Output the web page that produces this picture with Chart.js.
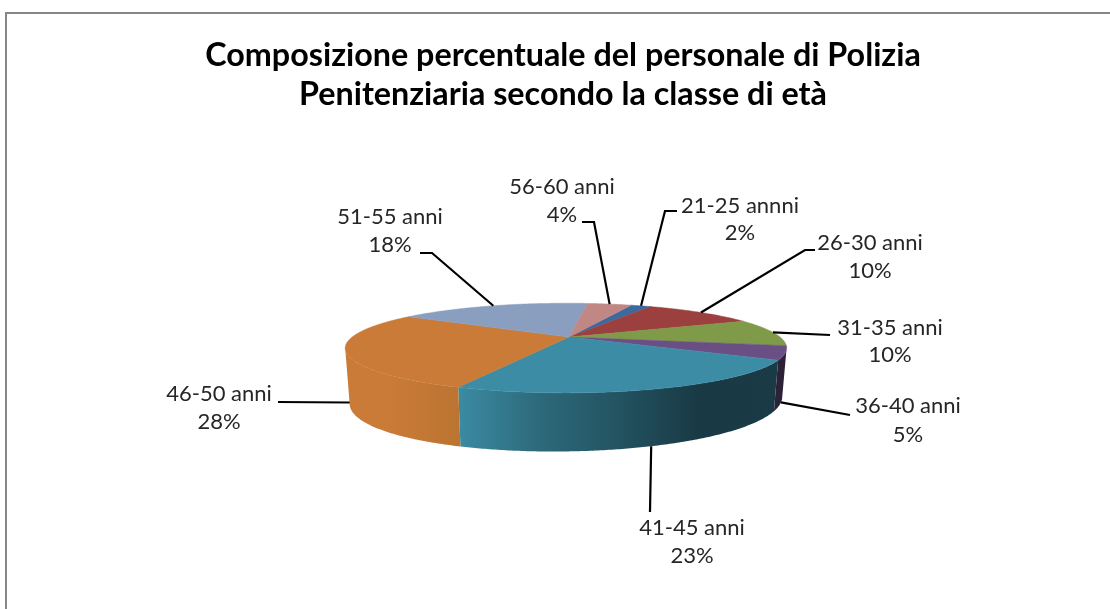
<!DOCTYPE html>
<html>
<head>
<meta charset="utf-8">
<script src="https://cdn.jsdelivr.net/npm/chart.js@4"></script>
<style>
html, body { margin: 0; padding: 0; background: #fff; overflow: hidden; }
#wrap { position: absolute; left: 0; top: 0; width: 1110px; height: 609px; }
#frame { position: absolute; left: 5px; top: 12px; width: 1110px; height: 620px; border: 2px solid #868686; }
</style>
</head>
<body>
<div id="frame"></div>
<div id="wrap"><canvas id="myChart"></canvas></div>
<script>
const titleLines = ['Composizione percentuale del personale di Polizia', 'Penitenziaria secondo la classe di età'];
const categories = ['21-25 annni', '26-30 anni', '31-35 anni', '36-40 anni', '41-45 anni', '46-50 anni', '51-55 anni', '56-60 anni'];
const percentages = [1.9, 10.4, 10.0, 5.0, 23.4, 27.6, 17.6, 4.1];
const topColors = ['#3d6a9e', '#9c3f3f', '#7f9a48', '#6a4f85', '#3c8ca5', '#c97b37', '#8a9fc0', '#c08785'];
// left to right colour stops of the rim
const sideColors = [
	['#2b4a70'], ['#6e2c2c'], ['#5a6d33'], ['#2c2238'],
	['#3b8ba2', '#2d6a7b', '#235361', '#193a45', '#1a3a46'],
	['#c97b37', '#ca7c37', '#c47835', '#bb7431'],
	['#62718a'], ['#885f5e']
];

// where the leader goes after leaving the pie, and where the two text lines sit
const labelLayout = [
	{ bend: [[665, 211], [677, 211]], x: 740, y: [206, 233] },
	{ bend: [[805, 250], [815, 250]], x: 870, y: [243, 271] },
	{ bend: [[830, 335]], x: 890, y: [328, 355] },
	{ bend: [[850, 415]], x: 908, y: [406, 435], low: true },
	{ bend: [[650, 512]], x: 692, y: [528, 556], low: true, shift: 1 },
	{ bend: [[278, 402]], x: 219, y: [394, 422], low: true, shift: 4 },
	{ bend: [[432, 253], [420, 253]], x: 390, y: [217, 245] },
	{ bend: [[594, 222], [582, 222]], x: 562, y: [187, 215] }
];

const view = { dx: 6, flat: 0.197, k: 0.244, m: -0.0136, shrink: 0.98 };

function rimTop(arc, a) {
	const u = Math.cos(a), v = Math.sin(a);
	const w = 1 - view.k * v - view.m * u;
	return {
		x: arc.x + view.dx + arc.outerRadius * u / w,
		y: arc.y + arc.outerRadius * view.flat * v / w
	};
}

function rimBottom(arc, a) {
	const p = rimTop(arc, a);
	const cx = arc.x + view.dx;
	const depth = 50 + 8.5 * Math.sin(a) - 3.6 * Math.cos(a);
	return { x: cx + (p.x - cx) * view.shrink, y: p.y + depth };
}

function anglesOf(start, end) {
	const out = [];
	const n = Math.max(2, Math.ceil((end - start) / 0.01));
	for (let i = 0; i <= n; i++) out.push(start + (end - start) * i / n);
	return out;
}

const pie3d = {
	id: 'pie3d',
	beforeDatasetDraw(chart, args) {
		const ctx = chart.ctx;
		const arcs = args.meta.data;
		const edge = Math.asin(view.k); // silhouette of the disc

		// rim first, only the part that faces the viewer
		arcs.forEach((arc, i) => {
			const twoPi = Math.PI * 2;
			let s = arc.startAngle, e = arc.endAngle;
			while (e > twoPi) { s -= twoPi; e -= twoPi; }
			s = Math.max(s, edge);
			e = Math.min(e, Math.PI - edge);
			if (e <= s) return;
			const angles = anglesOf(s, e);
			const a = rimTop(arc, s), b = rimTop(arc, e);
			const grad = ctx.createLinearGradient(Math.min(a.x, b.x), 0, Math.max(a.x, b.x), 0);
			const stops = sideColors[i];
			stops.forEach((c, j) => grad.addColorStop(stops.length > 1 ? j / (stops.length - 1) : 0, c));
			ctx.beginPath();
			angles.forEach(t => { const p = rimTop(arc, t); ctx.lineTo(p.x, p.y); });
			angles.slice().reverse().forEach(t => { const p = rimBottom(arc, t); ctx.lineTo(p.x, p.y); });
			ctx.closePath();
			ctx.fillStyle = grad;
			ctx.fill();
		});

		// top face
		arcs.forEach((arc, i) => {
			ctx.beginPath();
			ctx.moveTo(arc.x + view.dx, arc.y);
			anglesOf(arc.startAngle, arc.endAngle).forEach(t => { const p = rimTop(arc, t); ctx.lineTo(p.x, p.y); });
			ctx.closePath();
			ctx.fillStyle = topColors[i];
			ctx.strokeStyle = topColors[i];
			ctx.lineWidth = 0.5;
			ctx.fill();
			ctx.stroke();
		});
		return false;
	},
	afterDatasetsDraw(chart) {
		const ctx = chart.ctx;
		chart.getDatasetMeta(0).data.forEach((arc, i) => {
			const spec = labelLayout[i];
			const mid = (arc.startAngle + arc.endAngle) / 2 + (spec.shift || 0) * Math.PI / 180;
			const from = spec.low ? rimBottom(arc, mid) : rimTop(arc, mid);
			ctx.beginPath();
			ctx.moveTo(from.x, from.y);
			spec.bend.forEach(p => ctx.lineTo(p[0], p[1]));
			ctx.strokeStyle = '#000';
			ctx.lineWidth = 2.2;
			ctx.stroke();

			ctx.fillStyle = '#262626';
			ctx.font = '22px Lato';
			ctx.textAlign = 'center';
			ctx.textBaseline = 'middle';
			ctx.fillText(categories[i], spec.x, spec.y[0]);
			ctx.fillText(Math.round(percentages[i]) + '%', spec.x, spec.y[1]);
		});
	}
};

const ctx = document.getElementById('myChart').getContext('2d');

const myChart = new Chart(ctx, {
	type: 'pie',
	plugins: [pie3d],
	data: {
		labels: categories,
		datasets: [{
			data: percentages,
			backgroundColor: topColors,
			borderWidth: 0,
			radius: 214,
			rotation: 21
		}]
	},
	options: {
		responsive: true,
		maintainAspectRatio: false,
		animation: false,
		layout: { padding: { left: 16, right: 0, top: 0, bottom: 58 } },
		plugins: {
			legend: { display: false },
			tooltip: { enabled: false },
			title: {
				display: true,
				text: titleLines,
				color: '#000',
				font: { family: 'Lato', size: 32.3, weight: 'bold', lineHeight: 1.18 },
				padding: { top: 37, bottom: 10 }
			}
		}
	}
});
</script>
</body>
</html>
